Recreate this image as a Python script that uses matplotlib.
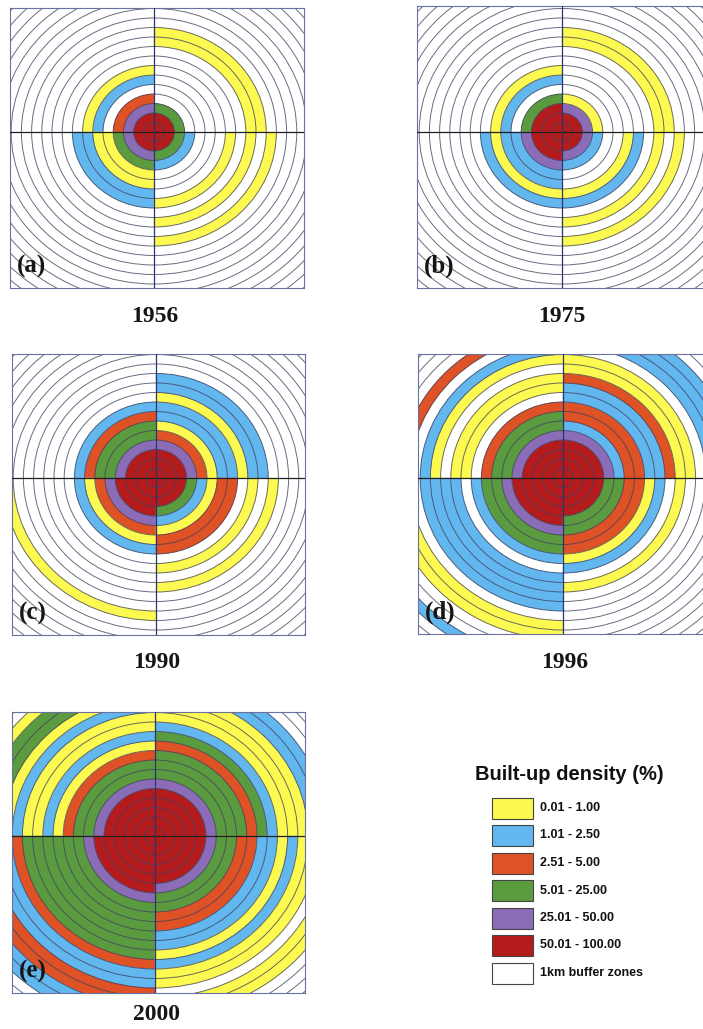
import matplotlib.pyplot as plt
from matplotlib.patches import Wedge, Circle, Rectangle

# built-up density classes (legend order)
class_codes = ['Y', 'B', 'O', 'G', 'P', 'R']
class_labels = ['0.01 - 1.00', '1.01 - 2.50', '2.51 - 5.00',
                '5.01 - 25.00', '25.01 - 50.00', '50.01 - 100.00']
class_colors = ['#fcf950', '#62b7ef', '#df5226', '#5b9b40', '#8b6cb6', '#b31b1c']

years = ['1956', '1975', '1990', '1996', '2000']
panel_tags = ['(a)', '(b)', '(c)', '(d)', '(e)']

# class of every 1km buffer ring (index = km from centre, W = no class)
# one string per quadrant: NE, NW, SW, SE
rings_1956 = ['RRGWWWWWWYY', 'RRPOWBY', 'RRPGYYBB', 'RRGBWWWYWYWY']
rings_1975 = ['RRPYWWWWWYY', 'RRRGWBY', 'RRRPBBYB', 'RRPBWWYBWYWY']
rings_1990 = ['RRRPOYBBYBB', 'RRRPGGOB', 'RRRRPOYBWWWWWWY', 'RRRGBYOOWYWY']
rings_1996 = ['RRRRPBOOBBOYYWBBB', 'RRRRPGGOWYYWYBWO',
              'RRRRRPGGBWBBBBWYYWWB', 'RRRRGGOOYBWY']
rings_2000 = ['RRRRRPGGGOGBYYYBB', 'RRRRRPGGOYBYYBYGGY',
              'RRRRRRPGGGGGGOBBOOBB', 'RRRRRPGGOOBBYBYYWYY']

all_rings = [rings_1956, rings_1975, rings_1990, rings_1996, rings_2000]

W, H = 703, 1029
PX_X, PX_Y = 10.2, 9.5   # pixels per km in the scanned maps

# panel frames in pixels: left, top, right, bottom, centre x, centre y
frames = [(10, 8, 304, 288, 154, 132),
          (417, 6, 711, 288, 562, 132),
          (12, 354, 305, 635, 156, 478),
          (418, 354, 712, 634, 563, 478),
          (12, 712, 305, 993, 155, 836)]
year_pos = [(155, 317), (562, 317), (157, 662), (565, 662), (157, 1015)]

colour = dict(zip(class_codes, class_colors))


def draw_panel(fig, frame, quads, tag):
    l, t, r, b, cx, cy = frame
    ax = fig.add_axes([l / W, 1 - b / H, (r - l) / W, (b - t) / H])
    for q, codes in enumerate(quads):
        for k, c in enumerate(codes):
            if c == 'W':
                continue
            ax.add_patch(Wedge((0, 0), k + 1, 90 * q, 90 * (q + 1), width=1,
                               facecolor=colour[c], edgecolor=colour[c],
                               lw=0.3, zorder=1))
    for rad in range(1, 25):
        ax.add_patch(Circle((0, 0), rad, fill=False, edgecolor='#3a3a58',
                            lw=0.7, alpha=0.75, zorder=2))
    ax.axhline(0, color='#202020', lw=0.9, zorder=3)
    ax.axvline(0, color='#2a3570', lw=0.9, zorder=3)
    ax.set_xlim((l - cx) / PX_X, (r - cx) / PX_X)
    ax.set_ylim((cy - b) / PX_Y, (cy - t) / PX_Y)
    ax.set_xticks([])
    ax.set_yticks([])
    for s in ax.spines.values():
        s.set_color('#6a70a0')
        s.set_linewidth(0.8)
    ax.text(0.025, 0.035, tag, transform=ax.transAxes, ha='left', va='bottom',
            fontsize=18, fontweight='bold', family='Liberation Serif',
            color='#151515', zorder=4)


fig = plt.figure(figsize=(W / 100, H / 100), dpi=100)

for i in range(5):
    draw_panel(fig, frames[i], all_rings[i], panel_tags[i])

# overlay in pixel coordinates for years and legend
ov = fig.add_axes([0, 0, 1, 1], zorder=5)
ov.set_xlim(0, W)
ov.set_ylim(H, 0)
ov.axis('off')
ov.patch.set_alpha(0)

for (x, y), yr in zip(year_pos, years):
    ov.text(x, y, yr, ha='center', va='center', fontsize=17,
            fontweight='bold', family='Liberation Serif', color='#151515')

ov.text(569, 775, 'Built-up density (%)', ha='center', va='center',
        fontsize=14.5, fontweight='bold', family='Liberation Sans', color='#111111')

legend_labels = class_labels + ['1km buffer zones']
legend_colors = class_colors + ['white']
for i, (lab, col) in enumerate(zip(legend_labels, legend_colors)):
    yc = 808 + 27.5 * i
    ov.add_patch(Rectangle((492, yc - 10.5), 41, 21, facecolor=col,
                           edgecolor='#444444', lw=0.8))
    ov.text(540, yc, lab, ha='left', va='center', fontsize=9,
            fontweight='bold', family='Liberation Sans', color='#111111')

fig.savefig('out.png', dpi=100)
